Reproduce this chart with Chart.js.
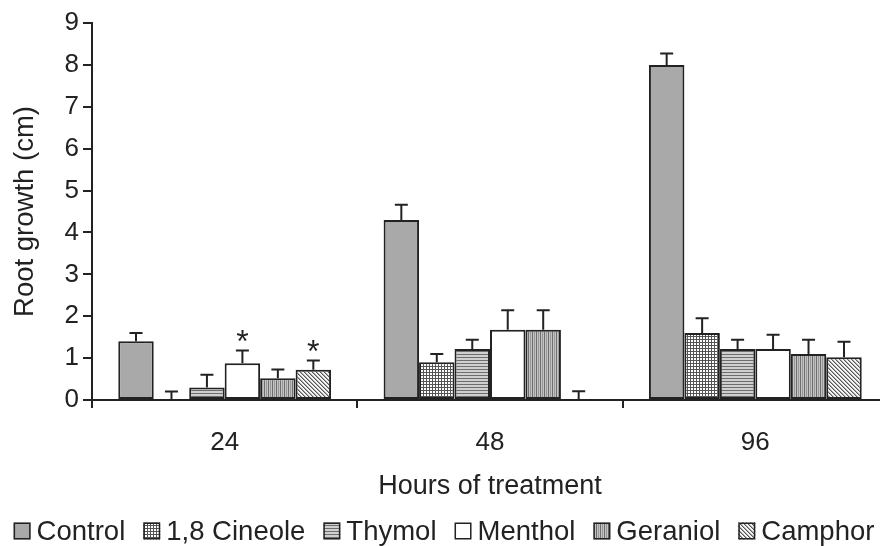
<!DOCTYPE html>
<html><head><meta charset="utf-8">
<script src="https://cdn.jsdelivr.net/npm/chart.js@4/dist/chart.umd.min.js"></script>
<style>html,body{margin:0;padding:0;background:#fff;overflow:hidden;width:880px;height:546px}</style>
</head><body>
<canvas id="c" width="888" height="546"></canvas>
<script>
// ---- data ----
const categories = ['24', '48', '96'];
const seriesNames = ['Control', '1,8 Cineole', 'Thymol', 'Menthol', 'Geraniol', 'Camphor'];
const control  = [1.4, 4.3, 8.0];
const cineole  = [0, 0.9, 1.6];
const thymol   = [0.3, 1.22, 1.22];
const menthol  = [0.88, 1.68, 1.22];
const geraniol = [0.52, 1.68, 1.1];
const camphor  = [0.72, 0, 1.02];
const controlErr  = [0.2, 0.36, 0.27];
const cineoleErr  = [0.2, 0.2, 0.35];
const thymolErr   = [0.3, 0.22, 0.22];
const mentholErr  = [0.3, 0.46, 0.34];
const geraniolErr = [0.21, 0.46, 0.34];
const camphorErr  = [0.22, 0.21, 0.37];
const yTickValues = [0, 1, 2, 3, 4, 5, 6, 7, 8, 9];
const significant = [['Menthol', '24'], ['Camphor', '24']];

const FONT = "'Liberation Sans', Arial, sans-serif";
const INK = '#222';

function makePattern(w, h, draw) {
  const c = document.createElement('canvas');
  c.width = w; c.height = h;
  const g = c.getContext('2d');
  draw(g, w, h);
  return g.createPattern(c, 'repeat');
}
const fills = [
  '#a9a9a9',
  makePattern(3, 3, (g) => { g.fillStyle = '#fff'; g.fillRect(0,0,3,3); g.fillStyle = '#555'; g.fillRect(0,0,3,1); g.fillRect(0,0,1,3); }),
  makePattern(1, 3, (g) => { g.fillStyle = '#cfcfcf'; g.fillRect(0,0,1,3); g.fillStyle = '#6e6e6e'; g.fillRect(0,0,1,1); }),
  '#ffffff',
  makePattern(4, 1, (g) => { g.fillStyle = '#c2c2c2'; g.fillRect(0,0,4,1); g.fillStyle = '#6e6e6e'; g.fillRect(0,0,1,1); g.fillStyle = '#999'; g.fillRect(2,0,1,1); }),
  makePattern(4, 4, (g) => { g.fillStyle = '#f4f4f4'; g.fillRect(0,0,4,4); g.fillStyle = '#555'; for (let i = 0; i < 4; i++) g.fillRect(i, i, 1, 1); g.fillStyle = '#aaa'; for (let i = 0; i < 4; i++) g.fillRect((i+1)%4, i, 1, 1); })
];

const values = [control, cineole, thymol, menthol, geraniol, camphor];
const errors = [controlErr, cineoleErr, thymolErr, mentholErr, geraniolErr, camphorErr];

const datasets = seriesNames.map((name, i) => ({
  label: name,
  data: values[i],
  errors: errors[i],
  backgroundColor: fills[i],
  borderColor: INK,
  borderWidth: 2,
  borderSkipped: false,
  categoryPercentage: 0.802,
  barPercentage: 1.0
}));

const extras = {
  id: 'extras',
  afterDatasetsDraw(chart) {
    const ctx = chart.ctx;
    const y = chart.scales.y;
    ctx.save();
    ctx.strokeStyle = INK;
    ctx.lineWidth = 2;
    chart.data.datasets.forEach((ds, di) => {
      const meta = chart.getDatasetMeta(di);
      meta.data.forEach((bar, i) => {
        const v = ds.data[i], e = ds.errors[i];
        const yb = y.getPixelForValue(v);
        const yt = y.getPixelForValue(v + e);
        ctx.beginPath();
        ctx.moveTo(bar.x, yb); ctx.lineTo(bar.x, yt);
        ctx.moveTo(bar.x - 6.5, yt); ctx.lineTo(bar.x + 6.5, yt);
        ctx.stroke();
      });
    });
    ctx.fillStyle = INK;
    ctx.font = '32px ' + FONT;
    ctx.textAlign = 'center';
    ctx.textBaseline = 'middle';
    significant.forEach(([name, cat]) => {
      const di = seriesNames.indexOf(name), ci = categories.indexOf(cat);
      const bar = chart.getDatasetMeta(di).data[ci];
      const ds = chart.data.datasets[di];
      const yt = y.getPixelForValue(ds.data[ci] + ds.errors[ci]);
      ctx.fillText('*', bar.x, yt - 7);
    });
    ctx.restore();
  },
  afterDraw(chart) {
    const ctx = chart.ctx;
    ctx.save();
    ctx.font = '27.5px ' + FONT;
    const box = 17, gap = 6, itemGap = 18;
    const widths = chart.data.datasets.map(d => box + gap + ctx.measureText(d.label).width);
    const total = widths.reduce((a, b) => a + b, 0) + itemGap * (widths.length - 1);
    let x = 444 - total / 2;
    const cy = 531;
    ctx.textBaseline = 'middle';
    ctx.textAlign = 'left';
    chart.data.datasets.forEach((d, i) => {
      ctx.fillStyle = d.backgroundColor;
      ctx.fillRect(x, cy - box / 2, box, box);
      ctx.strokeStyle = INK; ctx.lineWidth = 1.5;
      ctx.strokeRect(x + 0.75, cy - box / 2 + 0.75, box - 1.5, box - 1.5);
      ctx.fillStyle = INK;
      ctx.fillText(d.label, x + box + gap, cy + 1);
      x += widths[i] + itemGap;
    });
    ctx.restore();
  }
};

new Chart(document.getElementById('c'), {
  type: 'bar',
  data: { labels: categories, datasets },
  options: {
    responsive: false,
    animation: false,
    layout: { padding: { top: 23, right: 0, left: 0, bottom: 0 } },
    plugins: { legend: { display: false }, tooltip: { enabled: false } },
    scales: {
      x: {
        grid: { display: true, drawOnChartArea: false, offset: true, tickLength: 8, color: INK, lineWidth: 2 },
        border: { display: true, color: INK, width: 2 },
        ticks: { font: { family: FONT, size: 26 }, color: INK, padding: 19 },
        title: { display: true, text: 'Hours of treatment', font: { family: FONT, size: 27 }, color: INK, padding: { top: 0, bottom: 43 } },
        afterFit(s) { s.height = 146; }
      },
      y: {
        min: 0, max: 9,
        afterBuildTicks(s) { s.ticks = yTickValues.map(v => ({ value: v })); },
        grid: { display: true, drawOnChartArea: false, tickLength: 9, color: INK, lineWidth: 2 },
        border: { display: true, color: INK, width: 2 },
        ticks: { font: { family: FONT, size: 26 }, color: INK, padding: 4 },
        title: { display: true, text: 'Root growth (cm)', font: { family: FONT, size: 27.5 }, color: INK, padding: { top: 9, bottom: 0 } },
        afterFit(s) { s.width = 92; }
      }
    }
  },
  plugins: [extras]
});
</script>
</body></html>
